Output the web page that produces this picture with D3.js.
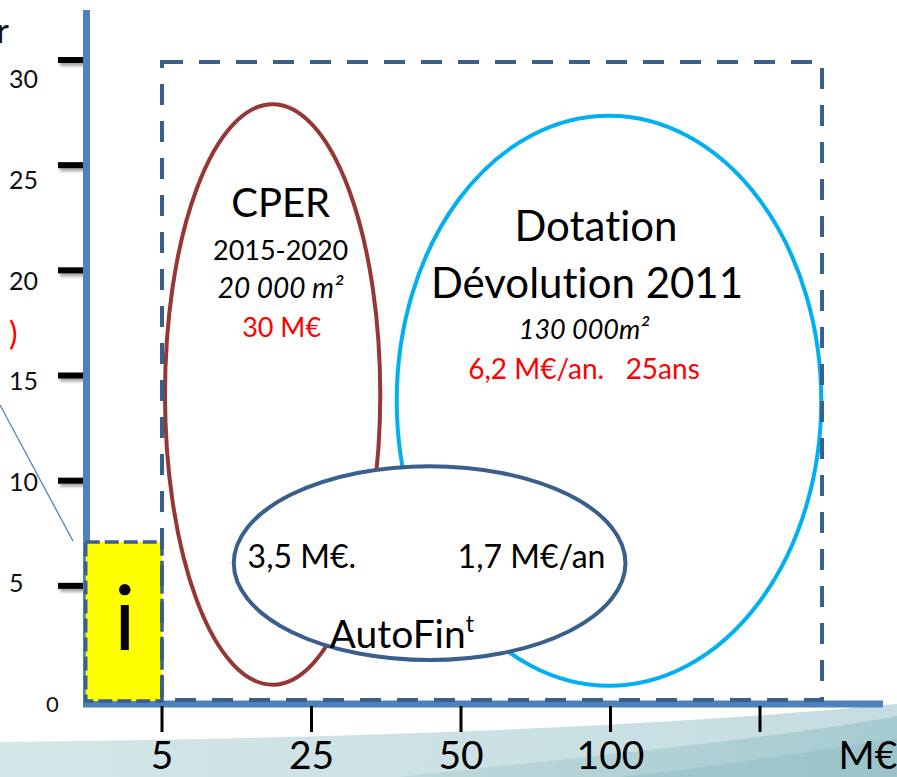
<!DOCTYPE html>
<html>
<head>
<meta charset="utf-8">
<script src="https://cdn.jsdelivr.net/npm/d3@7"></script>
<style>
  body { margin: 0; background: #fff; }
  svg { display: block; font-family: Lato, "Open Sans", sans-serif; font-variant-ligatures: none; }
</style>
</head>
<body>
<div id="chart"></div>
<script>

// values
var yTickValues = [5, 10, 15, 20, 25, 30];
var yLabelValues = [0, 5, 10, 15, 20, 25, 30];
var xTickLabels = ["5", "25", "50", "100", ""];
var xUnit = "M€";

// ellipses, x in tick index units, y in axis units
var ellipseNames = ["CPER", "Dotation", "AutoFin"];
var ellipseCx = [0.74, 2.99, 1.79];
var ellipseRx = [0.72, 1.42, 1.31];
var ellipseCy = [14.1, 13.8, 6.08];
var ellipseRy = [13.8, 13.55, 4.61];
var ellipseColors = ["#953735", "#00b0f0", "#3a5f8c"];

// dashed zones
var frameX = [0, 4.415], frameY = [-0.43, 29.9];
var infoX = [-0.51, 0], infoY = [-0.48, 7.08];

var cperLines = ["CPER", "2015-2020", "20 000 m²", "30 M€"];
var dotationLines = ["Dotation", "Dévolution 2011", "130 000m²", "6,2 M€/an.   25ans"];
var autofinLines = ["3,5 M€.", "1,7 M€/an", "AutoFin"];

var width = 897, height = 777;

var svg = d3.select("#chart")
  .append("svg")
  .attr("width", width)
  .attr("height", height);

var defs = svg.append("defs");
var shadow = defs.append("filter").attr("id", "shadow")
  .attr("filterUnits", "userSpaceOnUse")
  .attr("x", 0).attr("y", 0).attr("width", width).attr("height", height);
shadow.append("feDropShadow")
  .attr("dx", 2).attr("dy", 3).attr("stdDeviation", 1.6)
  .attr("flood-color", "#000").attr("flood-opacity", 0.35);

var g1 = defs.append("linearGradient").attr("id", "teal1").attr("x1", 0).attr("x2", 1).attr("y1", 0).attr("y2", 0);
g1.append("stop").attr("offset", "0%").attr("stop-color", "#d3e6e8");
g1.append("stop").attr("offset", "100%").attr("stop-color", "#c4dde1");
var g2 = defs.append("linearGradient").attr("id", "teal2").attr("x1", 0).attr("x2", 1).attr("y1", 0).attr("y2", 0);
g2.append("stop").attr("offset", "0%").attr("stop-color", "#bcd8dc");
g2.append("stop").attr("offset", "100%").attr("stop-color", "#a6cbd0");

// scales
var x = d3.scaleLinear().domain([0, 4]).range([162, 760]);
var y = d3.scaleLinear().domain([0, 30]).range([691, 60]);
var labelY = d3.scaleLinear().domain([5, 30]).range([583, 79]);

var originX = 86.5, originY = 704;

// slide background swoosh
svg.append("path")
  .attr("d", "M0,742 C300,739 620,730 897,704 L897,777 L0,777 Z")
  .attr("fill", "url(#teal1)");
svg.append("path")
  .attr("d", "M400,777 C600,755 780,738 897,716 L897,777 Z")
  .attr("fill", "url(#teal2)");
svg.append("path")
  .attr("d", "M620,777 C720,766 810,752 897,738 L897,777 Z")
  .attr("fill", "#94c0c6").attr("opacity", 0.6);

// leftovers of the neighbouring shapes
svg.append("text").attr("x", 9).attr("y", 43).attr("text-anchor", "end")
  .style("font-size", "34px").attr("fill", "#111").text("r");
svg.append("text").attr("x", 9).attr("y", 345)
  .style("font-size", "32px").attr("fill", "#ff0000").text(")");
svg.append("line")
  .attr("x1", 0).attr("y1", 405).attr("x2", 73).attr("y2", 541)
  .attr("stroke", "#4f81bd").attr("stroke-width", 1.3);

// ellipses
var ell = ellipseNames.map(function (n, i) {
  return { name: n, cx: ellipseCx[i], cy: ellipseCy[i], rx: ellipseRx[i], ry: ellipseRy[i], color: ellipseColors[i] };
});

svg.selectAll(".zone")
  .data(ell)
  .enter()
  .append("ellipse")
  .attr("class", "zone")
  .attr("cx", function (d) { return x(d.cx); })
  .attr("cy", function (d) { return y(d.cy); })
  .attr("rx", function (d) { return x(d.rx) - x(0); })
  .attr("ry", function (d) { return y(0) - y(d.ry); })
  .attr("fill", "#fff")
  .attr("stroke", function (d) { return d.color; })
  .attr("stroke-width", 4);

// y ticks (drawn before the axis so the axis covers their end)
svg.selectAll(".ytick")
  .data(yTickValues)
  .enter()
  .append("rect")
  .attr("class", "ytick")
  .attr("x", 58).attr("width", 27)
  .attr("y", function (d) { return y(d) - 3; })
  .attr("height", 6)
  .attr("fill", "#000")
  .attr("filter", "url(#shadow)");

// axes lines
svg.append("line")
  .attr("x1", originX).attr("x2", originX).attr("y1", 10).attr("y2", 707)
  .attr("stroke", "#4f81bd").attr("stroke-width", 7);
svg.append("line")
  .attr("x1", 83).attr("x2", 883).attr("y1", originY).attr("y2", originY)
  .attr("stroke", "#4f81bd").attr("stroke-width", 7);

svg.selectAll(".ylabel")
  .data(yLabelValues)
  .enter()
  .append("text")
  .attr("class", "ylabel")
  .attr("x", function (d) { return d === 0 ? 46 : 9; })
  .attr("y", function (d) { return d === 0 ? 712 : labelY(d) + 9; })
  .style("font-size", function (d) { return d === 0 ? "22px" : "25px"; })
  .attr("fill", "#111")
  .text(function (d) { return d; });

// x ticks
svg.selectAll(".xtick")
  .data(xTickLabels)
  .enter()
  .append("line")
  .attr("class", "xtick")
  .attr("x1", function (d, i) { return x(i); })
  .attr("x2", function (d, i) { return x(i); })
  .attr("y1", 706).attr("y2", 732)
  .attr("stroke", "#000").attr("stroke-width", 3);

svg.selectAll(".xlabel")
  .data(xTickLabels)
  .enter()
  .append("text")
  .attr("class", "xlabel")
  .attr("x", function (d, i) { return x(i); })
  .attr("y", 769)
  .attr("text-anchor", "middle")
  .style("font-size", "39px")
  .attr("fill", "#000")
  .text(function (d) { return d; });

svg.append("text")
  .attr("x", 868).attr("y", 769)
  .attr("text-anchor", "middle")
  .style("font-size", "39px")
  .attr("fill", "#000")
  .text(xUnit);

// yellow info box
svg.append("rect")
  .attr("x", x(infoX[0])).attr("y", y(infoY[1]))
  .attr("width", x(infoX[1]) - x(infoX[0]))
  .attr("height", y(infoY[0]) - y(infoY[1]))
  .attr("fill", "#ffff00")
  .attr("stroke", "#3a5f8c").attr("stroke-width", 3.5)
  .attr("stroke-dasharray", "14,5");
svg.append("text")
  .attr("x", (x(infoX[0]) + x(infoX[1])) / 2 + 1).attr("y", 650)
  .attr("text-anchor", "middle")
  .style("font-size", "90px")
  .attr("fill", "#000")
  .text("i");

// big dashed frame
svg.append("rect")
  .attr("x", x(frameX[0])).attr("y", y(frameY[1]))
  .attr("width", x(frameX[1]) - x(frameX[0]))
  .attr("height", y(frameY[0]) - y(frameY[1]))
  .attr("fill", "none")
  .attr("stroke", "#3a5f8c").attr("stroke-width", 4)
  .attr("stroke-dasharray", "21,16");

// labels inside the ellipses
function cx(i) { return x(ellipseCx[i]); }
function cy(i) { return y(ellipseCy[i]); }

var cperStyle = [
  { dx: 8, dy: -177, size: 40 },
  { dx: 8, dy: -134, size: 27 },
  { dx: 8, dy: -96, size: 28, italic: true },
  { dx: 9, dy: -57, size: 27, red: true }
];
var dotStyle = [
  { dx: -13, dy: -160, size: 42 },
  { dx: -22, dy: -103, size: 42 },
  { dx: -25, dy: -62, size: 27, italic: true },
  { dx: -25, dy: -22, size: 28, red: true }
];

function writeLines(lines, styles, i) {
  svg.selectAll(null)
    .data(lines)
    .enter()
    .append("text")
    .attr("x", function (d, k) { return cx(i) + styles[k].dx; })
    .attr("y", function (d, k) { return cy(i) + styles[k].dy; })
    .attr("text-anchor", "middle")
    .style("white-space", "pre")
    .style("font-size", function (d, k) { return styles[k].size + "px"; })
    .style("font-style", function (d, k) { return styles[k].italic ? "italic" : "normal"; })
    .attr("fill", function (d, k) { return styles[k].red ? "#ff0000" : "#000"; })
    .text(function (d) { return d; });
}
writeLines(cperLines, cperStyle, 0);
writeLines(dotationLines, dotStyle, 1);

svg.append("text")
  .attr("x", cx(2) - 182).attr("y", cy(2) + 5)
  .style("font-size", "32px").attr("fill", "#000")
  .text(autofinLines[0]);
svg.append("text")
  .attr("x", cx(2) + 28).attr("y", cy(2) + 5)
  .style("font-size", "32px").attr("fill", "#000")
  .text(autofinLines[1]);
var af = svg.append("text")
  .attr("x", cx(2) - 100).attr("y", cy(2) + 85)
  .style("font-size", "39px").attr("fill", "#000");
af.append("tspan").text(autofinLines[2]);
af.append("tspan").attr("dy", -16).style("font-size", "23px").text("t");

</script>
</body>
</html>
